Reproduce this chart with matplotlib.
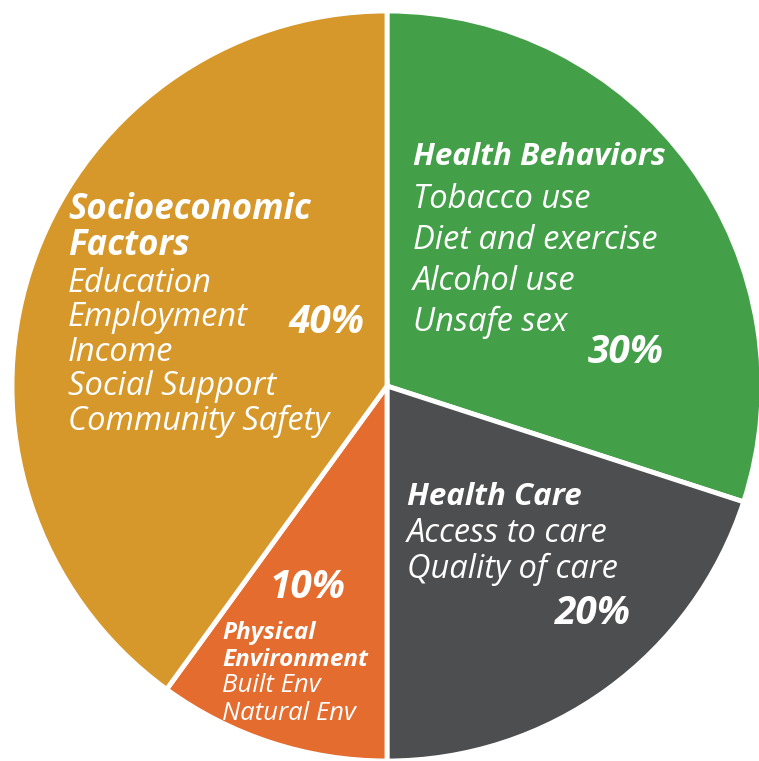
import matplotlib
matplotlib.use("Agg")
import matplotlib.pyplot as plt

# data
labels = ["Health Behaviors", "Health Care", "Physical Environment", "Socioeconomic Factors"]
shares = [30, 20, 10, 40]
colors = ["#43a048", "#4d4e50", "#e46c2f", "#d6982b"]
items = {
    "Health Behaviors": ["Tobacco use", "Diet and exercise", "Alcohol use", "Unsafe sex"],
    "Health Care": ["Access to care", "Quality of care"],
    "Physical Environment": ["Built Env", "Natural Env"],
    "Socioeconomic Factors": ["Education", "Employment", "Income", "Social Support", "Community Safety"],
}

plt.rcParams['font.family'] = ['Open Sans', 'DejaVu Sans']

W, H = 759, 761
CX, CY, R = 387, 386, 375

fig = plt.figure(figsize=(W / 100, H / 100), dpi=100)
ax = fig.add_axes([0, 0, 1, 1])
ax.pie(shares, colors=colors, startangle=90, counterclock=False, radius=1.0,
       wedgeprops=dict(edgecolor="white", linewidth=3.5))
ax.set_xlim(-CX / R, (W - CX) / R)
ax.set_ylim(-(H - CY) / R, CY / R)
ax.set_aspect("equal")
ax.axis("off")


def px(x, y):
    # pixel position in picture -> data coords
    return (x - CX) / R, (CY - y) / R


def put(x, y, s, size, bold=False, ha="left"):
    ax.text(*px(x, y), s, color="white", fontsize=size, style="italic",
            fontweight="bold" if bold else "normal", ha=ha, va="center")


# Health Behaviors
put(413, 157, labels[0], 22.5, bold=True)
for i, t in enumerate(items[labels[0]]):
    put(413, 199 + i * 41, t, 23.5)
put(626, 352, f"{shares[0]}%", 28, bold=True, ha="center")

# Health Care
put(407, 497, labels[1], 22.5, bold=True)
for i, t in enumerate(items[labels[1]]):
    put(407, 533 + i * 36, t, 23.5)
put(593, 614, f"{shares[1]}%", 28, bold=True, ha="center")

# Physical Environment
put(222, 633, "Physical", 17.5, bold=True)
put(222, 660, "Environment", 17.5, bold=True)
for i, t in enumerate(items[labels[2]]):
    put(222, 686 + i * 27, t, 18.5)
put(308, 587, f"{shares[2]}%", 28, bold=True, ha="center")

# Socioeconomic Factors
put(68, 210, "Socioeconomic", 25, bold=True)
put(68, 246, "Factors", 25, bold=True)
for i, t in enumerate(items[labels[3]]):
    put(68, 283 + i * 34.5, t, 23.5)
put(326, 322, f"{shares[3]}%", 28, bold=True, ha="center")

fig.savefig("out.png", dpi=100)
